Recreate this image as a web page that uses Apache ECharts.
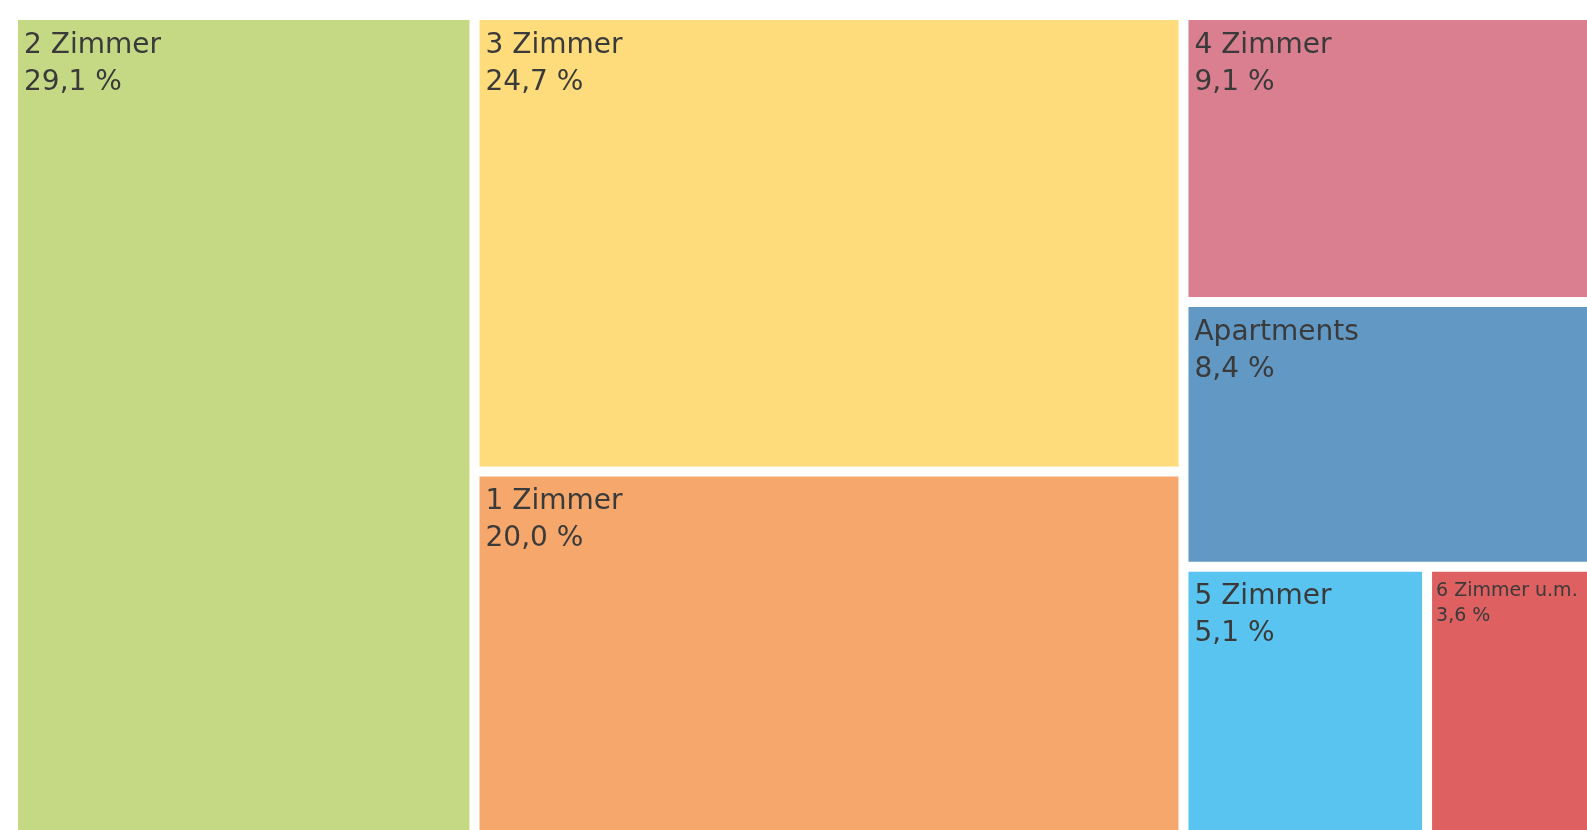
<!DOCTYPE html>
<html>
<head>
<meta charset="utf-8">
<script src="https://cdn.jsdelivr.net/npm/echarts@6/dist/echarts.min.js"></script>
<style>
html,body{margin:0;padding:0;background:#fff;overflow:hidden;}
#chart{width:1587px;height:830px;}
</style>
</head>
<body>
<div id="chart"></div>
<script>
var categories = ['2 Zimmer', '3 Zimmer', '1 Zimmer', '4 Zimmer', 'Apartments', '5 Zimmer', '6 Zimmer u.m.'];
var shares = [29.1, 24.7, 20.0, 9.1, 8.4, 5.1, 3.6];
var colors = ['#c5d984', '#ffdc7b', '#f5a76c', '#d97f8f', '#6198c4', '#5ac4f1', '#df6060'];

var chart = echarts.init(document.getElementById('chart'));
var data = categories.map(function (name, i) {
  var item = { name: name, value: shares[i], itemStyle: { color: colors[i] } };
  if (shares[i] < 4) {
    item.label = { fontSize: 19, lineHeight: 25, padding: [7, 0, 0, 4], overflow: 'none' };
  }
  return item;
});

chart.setOption({
  animation: false,
  series: [{
    type: 'treemap',
    left: 18,
    top: 20,
    width: 1576,
    height: 816,
    roam: false,
    nodeClick: false,
    breadcrumb: { show: false },
    squareRatio: 1,
    sort: 'desc',
    itemStyle: { gapWidth: 10, borderWidth: 0, borderColor: '#fff' },
    levels: [
      { itemStyle: { gapWidth: 10, borderWidth: 0 } },
      { itemStyle: { borderWidth: 0 } }
    ],
    label: {
      show: true,
      position: 'insideTopLeft',
      distance: 0,
      padding: [7, 0, 0, 6],
      color: '#3a3a3a',
      fontFamily: 'DejaVu Sans',
      fontSize: 28,
      lineHeight: 37,
      overflow: 'none',
      formatter: function (p) {
        return p.name + '\n' + p.value.toFixed(1).replace('.', ',') + ' %';
      }
    },
    data: data
  }]
});
</script>
</body>
</html>
